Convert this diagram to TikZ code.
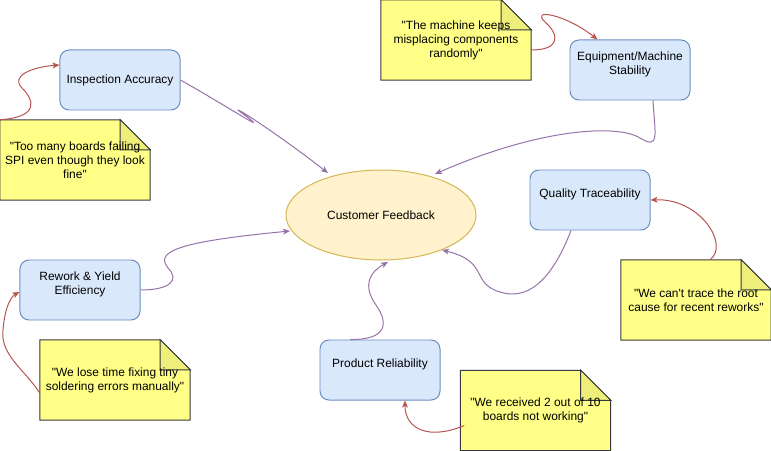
\documentclass[tikz,border=0pt]{standalone}
\usepackage{fontspec}
\setmainfont{Liberation Sans}[Ligatures=TeXOff]
\usetikzlibrary{calc,arrows.meta,shapes.geometric,backgrounds}
\definecolor{boxfill}{HTML}{DAE8FC}
\definecolor{boxline}{HTML}{6C8EBF}
\definecolor{notefill}{HTML}{FFFF88}
\definecolor{notefold}{HTML}{EEEE7A}
\definecolor{noteline}{HTML}{36393D}
\definecolor{hubfill}{HTML}{FFF2CC}
\definecolor{hubline}{HTML}{D6B656}
\definecolor{quoteline}{HTML}{B85450}
\definecolor{linkline}{HTML}{9673A6}
\def\notecorner(#1){\begin{scope}[on background layer]
	\draw[line width=0.85pt, draw=noteline, fill=notefill] (#1.north west) -- ($(#1.north east)+(-30,0)$) -- ($(#1.north east)+(0,30)$) -- (#1.south east) -- (#1.south west) -- cycle;
	\draw[line width=0.85pt, draw=noteline, fill=notefold] ($(#1.north east)+(-30,0)$) -- ($(#1.north east)+(-30,30)$) -- ($(#1.north east)+(0,30)$) -- cycle;
\end{scope}}

\begin{document}
\begin{tikzpicture}[x=0.03cm, y=-0.03cm, font=\fontsize{10.2pt}{12pt}\selectfont,
	factor/.style={draw=boxline, fill=boxfill, rounded corners=0.27cm, line width=0.85pt, minimum width=3.6cm, minimum height=1.8cm, align=center, inner sep=0pt},
	raised/.style={text depth=12pt},
	quotenote/.style={minimum width=4.5cm, minimum height=2.4cm, align=center, inner sep=0pt},
	hub/.style={ellipse, draw=hubline, fill=hubfill, line width=0.85pt, minimum width=5.7cm, minimum height=2.7cm, inner sep=0pt},
	quotearrow/.style={draw=quoteline, line width=0.85pt, -{Stealth[length=6pt,width=5pt,inset=1.5pt]}},
	linkarrow/.style={draw=linkline, line width=0.85pt, -{Stealth[length=6pt,width=5pt,inset=1.5pt]}}]
			%%%%% START %%%%%
			\useasboundingbox (0, 0) rectangle (771, 451);
			
			\node[hub] (cf) at (381, 215) {Customer Feedback};
			
			\node[factor] (ia) at (120, 80) {Inspection Accuracy};
			\node[factor, raised] (eq) at (630, 70) {Equipment/Machine\\Stability};
			\node[factor, raised] (qt) at (590, 200) {Quality Traceability};
			\node[factor, raised] (rw) at (80, 290) {Rework \& Yield\\Efficiency};
			\node[factor, raised] (pr) at (380, 370) {Product Reliability};
			
			\node[quotenote] (n1) at (75, 160) {"Too many boards failing\\SPI even though they look\\fine"};
			\notecorner(n1)
			\node[quotenote] (n2) at (456, 40) {"The machine keeps\\misplacing components\\randomly"};
			\notecorner(n2)
			\node[quotenote] (n4) at (696, 300) {"We can't trace the root\\cause for recent reworks"};
			\notecorner(n4)
			\node[quotenote] (n3) at (115, 380) {"We lose time fixing tiny\\soldering errors manually"};
			\notecorner(n3)
			\node[quotenote] (n5) at (535.5, 410.5) {"We received 2 out of 10\\boards not working"};
			\notecorner(n5)
			
			% quotes to factors
			\draw[quotearrow] (n1.north west) .. controls (40, 117) and (34, 100) .. (22, 88) .. controls (10, 76) and (32, 67) .. ($(ia.west)+(0,-15)$);
			\draw[quotearrow] ($(n2.east)+(0,10)$) .. controls (560, 50) and (560, 35) .. (545, 22) .. controls (530, 8) and (565, 14) .. ($(eq.north west)+(28,0)$);
			\draw[quotearrow] ($(n4.north)+(14,0)$) .. controls (730, 245) and (700, 198) .. (qt.east);
			\draw[quotearrow] ($(n5.west)+(4,15)$) .. controls (430, 440) and (405, 430) .. ($(pr.south)+(25,0)$);
			\draw[quotearrow] ($(n3.west)+(0,13)$) .. controls (25, 370) and (0, 355) .. (3, 330) .. controls (5, 305) and (12, 296) .. ($(rw.west)+(0,2)$);
			
			% factors to feedback
			\draw[linkarrow] (ia.east) .. controls (225, 105) and (272, 136) .. (246, 116) .. controls (220, 98) and (262, 122) .. ($(cf.center)+(-53,-42)$);
			\draw[linkarrow] ($(eq.south)+(23,0)$) .. controls (655, 135) and (660, 150) .. (640, 138) .. controls (618, 124) and (540, 128) .. ($(cf.center)+(54,-41)$);
			\draw[linkarrow] ($(qt.south)+(-19,0)$) .. controls (550, 285) and (525, 300) .. (500, 292) .. controls (470, 283) and (490, 262) .. ($(cf.center)+(61,35)$);
			\draw[linkarrow] ($(pr.north)+(-30,0)$) .. controls (385, 340) and (390, 325) .. (376, 305) .. controls (362, 285) and (370, 272) .. ($(cf.center)+(7,47)$);
			\draw[linkarrow] (rw.east) .. controls (170, 290) and (180, 280) .. (168, 268) .. controls (155, 252) and (175, 242) .. ($(cf.center)+(-91,16)$);
			
			%%%%% END %%%%%
\end{tikzpicture}
\end{document}
